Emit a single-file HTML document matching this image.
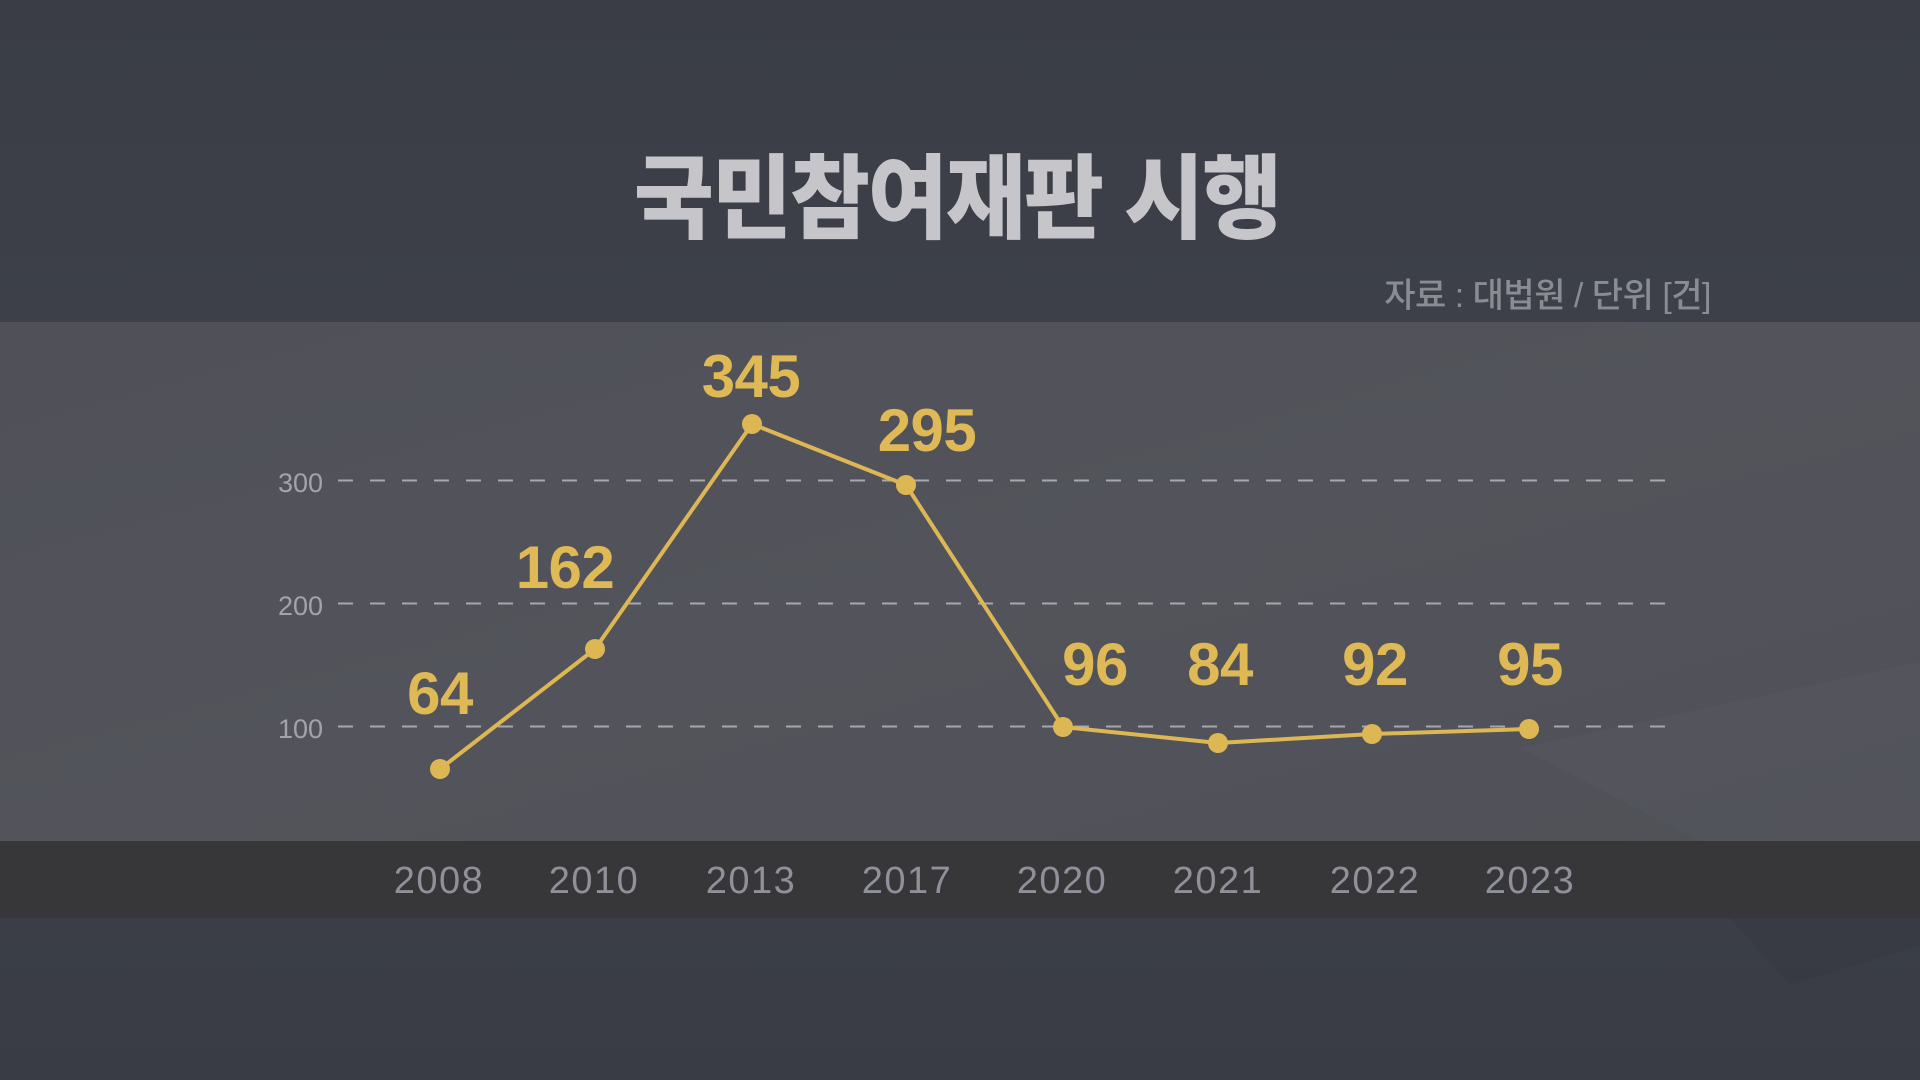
<!DOCTYPE html>
<html>
<head>
<meta charset="utf-8">
<style>
  html, body { margin:0; padding:0; width:1920px; height:1080px; overflow:hidden; background:#3b3e47; }
  svg { display:block; }
</style>
</head>
<body>
<svg width="1920" height="1080" viewBox="0 0 1920 1080" xmlns="http://www.w3.org/2000/svg">
  <defs>
    <linearGradient id="topg" x1="0" y1="0" x2="0" y2="1">
      <stop offset="0" stop-color="#3a3d46"/>
      <stop offset="1" stop-color="#3d4049"/>
    </linearGradient>
    <linearGradient id="bandg" x1="0" y1="0" x2="1" y2="1">
      <stop offset="0" stop-color="#4f5058"/>
      <stop offset="0.5" stop-color="#53545b"/>
      <stop offset="1" stop-color="#505158"/>
    </linearGradient>
    <linearGradient id="botg" x1="0" y1="0" x2="0" y2="1">
      <stop offset="0" stop-color="#3b3e47"/>
      <stop offset="1" stop-color="#393c45"/>
    </linearGradient>
  </defs>

  <!-- backgrounds -->
  <rect x="0" y="0" width="1920" height="322" fill="url(#topg)"/>
  <rect x="0" y="322" width="1920" height="519" fill="url(#bandg)"/>
  <polygon points="1520,748 1920,662 1920,841 1700,841" fill="#5a5b62" opacity="0.3"/>
  <rect x="0" y="841" width="1920" height="77" fill="#37373a"/>
  <rect x="0" y="918" width="1920" height="162" fill="url(#botg)"/>
  <polygon points="1730,918 1920,918 1920,945 1790,985" fill="#33363e" opacity="0.35"/>

  <!-- title -->
  <text x="957" y="0" text-anchor="middle" transform="translate(0,231) scale(1,1.06)" font-family="'Liberation Sans','Noto Sans CJK KR',sans-serif" font-weight="900" font-size="87" fill="#c6c6ca" letter-spacing="-2">국민참여재판 시행</text>
  <text x="1711" y="307" text-anchor="end" font-family="'Liberation Sans','Noto Sans CJK KR',sans-serif" font-weight="500" font-size="34" fill="#8b8c93" letter-spacing="-0.5">자료 : 대법원 / 단위 [건]</text>

  <!-- gridlines -->
  <g stroke="#a7a8ad" stroke-width="2" stroke-dasharray="15 17" fill="none">
    <line x1="338" y1="480.5" x2="1668" y2="480.5"/>
    <line x1="338" y1="603.5" x2="1668" y2="603.5"/>
    <line x1="338" y1="726.5" x2="1668" y2="726.5"/>
  </g>
  <g font-family="'Liberation Sans',sans-serif" font-size="27" fill="#a3a4aa" text-anchor="end">
    <text x="323" y="492">300</text>
    <text x="323" y="615">200</text>
    <text x="323" y="738">100</text>
  </g>

  <!-- series -->
  <polyline points="440,769 595,649 752,424 906,485 1063,727 1218,743 1372,734 1529,729" fill="none" stroke="#ddb753" stroke-width="4" stroke-linejoin="round"/>
  <g fill="#ddb753">
    <circle cx="440" cy="769" r="10"/>
    <circle cx="595" cy="649" r="10"/>
    <circle cx="752" cy="424" r="10"/>
    <circle cx="906" cy="485" r="10"/>
    <circle cx="1063" cy="727" r="10"/>
    <circle cx="1218" cy="743" r="10"/>
    <circle cx="1372" cy="734" r="10"/>
    <circle cx="1529" cy="729" r="10"/>
  </g>

  <!-- value labels -->
  <g font-family="'Liberation Sans',sans-serif" font-weight="bold" font-size="60" fill="#dfb955" text-anchor="middle" letter-spacing="-0.5">
    <text x="440" y="714">64</text>
    <text x="565" y="588">162</text>
    <text x="751" y="397">345</text>
    <text x="927" y="451">295</text>
    <text x="1095" y="685">96</text>
    <text x="1220" y="685">84</text>
    <text x="1375" y="685">92</text>
    <text x="1530" y="685">95</text>
  </g>

  <!-- x axis labels -->
  <g font-family="'Liberation Sans',sans-serif" font-size="38" fill="#8f909a" text-anchor="middle" letter-spacing="1.5">
    <text x="439" y="893">2008</text>
    <text x="594" y="893">2010</text>
    <text x="751" y="893">2013</text>
    <text x="907" y="893">2017</text>
    <text x="1062" y="893">2020</text>
    <text x="1218" y="893">2021</text>
    <text x="1375" y="893">2022</text>
    <text x="1530" y="893">2023</text>
  </g>
</svg>
</body>
</html>
